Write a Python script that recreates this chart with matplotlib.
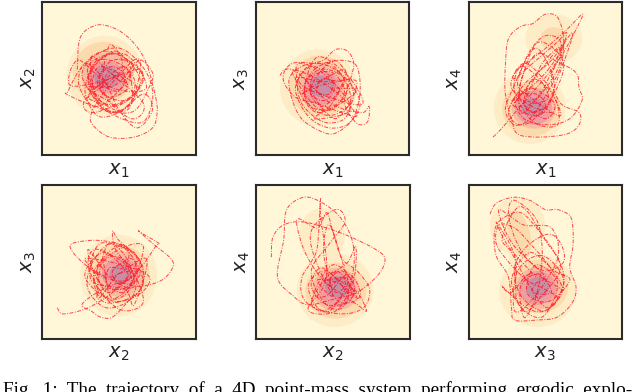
import matplotlib
matplotlib.use("Agg")
import matplotlib.pyplot as plt
from matplotlib.patches import Ellipse, PathPatch
from matplotlib.path import Path

W, H = 640, 392
labels = [("x_1", "x_2"), ("x_1", "x_3"), ("x_1", "x_4"),
          ("x_2", "x_3"), ("x_2", "x_4"), ("x_3", "x_4")]
boxes = [(42, 2), (255.5, 2), (468.5, 2), (42, 185), (256, 185), (468.5, 185)]
caption = "Fig. 1: The trajectory of a 4D point-mass system performing ergodic explo-"

BG = "#FFF7D8"
LEVELS = ["#FDECC6", "#FBDBAE", "#F8BCA2", "#EE9EA0", "#C88EA6"]

# (level, cx, cy, rx, ry, angle)
bands_12 = [(0,41,52,25,26,0),(1,40,54,20,20,0),(2,42,52,16,15,0),(3,42,51,12,10.5,0),(4,42,51,8,7.5,0)]
bands_13 = [(0,41,44,25,25,-30),(1,42,45,20,20,0),(2,43,45,15,15,0),(3,43,44,12,11,0),(4,43,45,8,7,0)]
bands_14 = [(0,40,31,23.5,23.5,0),(0,55.5,76,18.5,16,0),(0,50,58,10,20,-25),(1,41,30.5,19,18,0),
            (1,55.5,76,8.7,7.6,0),(2,42.5,31,14.5,13.5,0),(3,42.5,31,12,11,0),(4,42,31.5,7.5,6,0)]
bands_23 = [(0,50,41,25,26.5,0),(1,50,42,20,19,0),(2,51,42,16,15,0),(3,51,42,12,10.5,0),(4,51,42,7,6,0)]
bands_24 = [(0,51.5,31.5,25,24,0),(0,43,67,15,18,0),(1,52,31,20,18,0),(2,52,32,15.5,14,0),
            (3,53,32,12,11.5,0),(4,53,33.5,8,7,0)]
bands_34 = [(0,45,31,25,23.5,0),(0,32,73,18,19,0),(0,38,52,11,16,20),(1,46,34,19,17.5,0),
            (1,33,68,7,16,15),(2,46,33,15,14,0),(3,45,33,12,11,0),(4,45,33,7.5,7,0)]

traj_12 = [(23,56),(25,77),(36,85),(49,82),(60,73),(68,60),(74,38),(75,28),(72,18),(60,12),(44,12),(33,20),(32,27),
           (38,38),(50,52),(62,63),(72,54),(70,45),(60,29),(44,29),(29,34),(16,40),(17,42),(24,55),(35,66),(50,70),
           (62,62),(70,50),(72,36),(66,22),(52,24),(36,34),(30,50),(36,62),(50,60),(60,50),(58,38),(46,32),(34,40),
           (32,56),(44,66),(56,62),(64,48),(55,36),(40,40),(38,52),(46,58),(54,52),(50,42),(40,46),(44,54),(52,48),
           (58,56),(48,68),(34,58),(28,42),(36,26),(50,28),(66,40),(72,30),(62,18),(50,30),(40,50),(28,60),(24,46),
           (34,32),(48,40),(60,58),(46,62),(36,48),(44,38),(56,44),(48,52),(30,38),(52,34),(66,52),(42,68),(26,52),
           (46,28),(62,44),(38,58),(34,44),(54,58),(58,34),(40,30),(30,58),(54,66),(68,44),(46,44),(24,62),(18,46),
           (38,48),(64,56),(60,40),(34,28),(28,36),(52,56),(44,72),(40,42),(58,24),(66,34),(42,56),(32,64),(36,38),
           (56,30),(64,62),(48,46),(30,44),(46,34)]
traj_13 = [(16,52),(19,56),(26,55),(36,46),(46,36),(58,30),(70,28),(74,32),(73,22),(66,21),(58,34),(62,50),(64,60),
           (60,68),(52,69),(44,62),(30,58),(22,50),(24,36),(30,24),(40,17),(50,14),(60,20),(68,32),(64,44),(52,56),
           (38,60),(28,50),(30,34),(44,22),(58,24),(62,38),(56,52),(42,56),(32,46),(36,32),(50,30),(58,42),(50,54),
           (38,52),(36,40),(46,36),(52,46),(44,50),(40,42),(48,40),(50,50),(36,58),(26,44),(34,26),(48,18),(62,22),
           (68,40),(66,58),(56,62),(42,60),(24,60),(18,50),(26,38),(40,34),(56,28),(66,26),(54,40),(36,52),(24,54),
           (42,30),(60,42),(48,60),(34,48),(52,24),(66,48),(44,46),(30,40),(58,56),(50,34),(38,24),(62,30),(46,52),
           (28,60),(30,46),(54,36),(70,34),(60,52),(40,64),(32,38),(48,26),(64,38),(52,62),(36,44),(44,32),(58,48),
           (42,48),(26,50),(40,28),(66,42),(50,44)]
traj_14 = [(16,12),(22,18),(32,30),(46,46),(60,64),(72,86),(74,92),(64,82),(48,68),(32,56),(30,50),(44,62),(58,74),
           (64,80),(60,66),(54,50),(60,34),(72,28),(72,20),(64,14),(46,12),(32,14),(28,24),(24,40),(24,58),(26,76),
           (34,84),(42,86),(50,92),(58,90),(62,76),(60,58),(52,42),(40,24),(30,20),(24,30),(30,46),(40,68),(50,78),
           (60,74),(58,56),(44,36),(34,28),(34,48),(44,66),(56,62),(70,54),(72,44),(74,36),(66,24),(52,20),(36,24),
           (30,38),(44,40),(50,32),(40,28),(36,36),(44,34),(52,38),(46,50),(34,58),(30,42),(42,22),(58,20),(56,38),
           (42,50),(36,34),(48,60),(62,72),(52,56),(38,42),(28,34),(46,26),(56,46),(44,70),(32,48),(40,38),(60,26),
           (50,48),(36,60),(28,44),(48,30),(58,50),(68,80),(54,62),(36,46),(26,28),(36,20),(52,34),(62,60),(46,74),
           (36,54),(34,36),(50,24),(56,34),(40,44),(30,34),(44,52),(60,70),(48,42),(38,30),(54,28)]
traj_23 = [(10,20),(14,16),(30,20),(46,30),(64,46),(74,60),(76,62),(66,68),(63,70),(72,62),(84,52),(85,46),(78,38),
           (64,34),(50,36),(36,30),(26,22),(32,18),(38,14),(46,14),(56,24),(64,32),(66,44),(60,56),(48,62),(34,64),
           (20,62),(19,58),(26,50),(40,40),(56,38),(64,50),(50,64),(46,70),(48,58),(60,42),(66,24),(56,18),(46,22),
           (36,34),(30,48),(34,58),(46,54),(56,46),(58,34),(50,26),(40,28),(34,40),(42,52),(52,52),(60,40),(52,30),
           (42,36),(44,46),(54,46),(56,58),(44,62),(32,48),(30,32),(42,20),(58,26),(62,42),(58,52),(46,44),(50,36),
           (56,42),(40,56),(28,40),(48,24),(66,36),(52,60),(36,46),(44,30),(62,52),(38,62),(32,38),(54,32),(60,22),
           (68,52),(44,40),(28,52),(52,48),(70,40),(62,28),(40,24),(34,44),(50,58),(66,60),(56,34),(38,36),(30,58),
           (46,38),(60,34),(54,54),(42,60),(36,26),(50,42),(64,42),(46,26),(40,50)]
traj_24 = [(10,53),(11,66),(18,74),(30,76),(46,72),(62,66),(78,58),(84,52),(80,42),(66,30),(52,26),(34,22),(24,28),
           (14,40),(18,64),(20,84),(31,92),(42,89),(54,80),(62,66),(64,50),(60,30),(52,18),(40,16),(34,20),(44,34),
           (46,50),(42,80),(42,90),(40,60),(36,50),(30,40),(30,28),(38,20),(56,16),(70,20),(74,32),(66,44),(56,52),
           (50,70),(46,82),(40,72),(28,78),(27,72),(32,56),(42,40),(54,30),(66,22),(72,18),(66,30),(54,38),(42,46),
           (36,34),(46,22),(60,24),(64,34),(56,44),(48,38),(52,30),(58,34),(56,40),(48,34),(50,42),(60,50),(65,60),
           (64,40),(56,20),(44,24),(36,44),(48,62),(58,76),(52,84),(36,70),(40,48),(54,24),(68,28),(60,42),(46,28),
           (38,30),(50,48),(62,36),(44,18),(34,34),(46,44),(62,28),(58,44),(48,74),(44,56),(50,28),(40,38),(54,36),
           (66,26),(52,44),(36,24),(48,18),(60,38),(46,38)]
traj_34 = [(14,81),(18,88),(29,92),(40,90),(50,84),(58,84),(66,80),(68,72),(68,60),(66,46),(70,34),(68,24),(58,14),
           (44,12),(30,12),(28,20),(26,40),(18,54),(17,70),(22,78),(34,82),(46,70),(56,56),(62,42),(60,28),(50,18),
           (38,20),(22,34),(28,30),(40,42),(54,36),(62,32),(52,48),(40,62),(30,72),(20,74),(18,62),(26,50),(38,38),
           (50,32),(58,26),(48,18),(34,28),(30,46),(38,60),(52,68),(60,62),(62,50),(50,44),(38,52),(30,66),(26,82),
           (30,90),(44,78),(48,58),(46,36),(42,22),(36,14),(34,34),(46,42),(54,30),(42,30),(44,36),(50,40),(40,50),
           (30,60),(24,70),(20,84),(36,74),(54,72),(58,52),(42,26),(30,18),(32,44),(48,54),(62,38),(52,20),(40,34),
           (28,56),(22,66),(34,86),(50,64),(60,46),(46,26),(36,18),(28,38),(40,56),(56,44),(66,38),(52,24),(38,30),
           (44,48),(58,36),(48,14),(32,24),(30,54),(18,76),(26,60),(44,40)]

bands = [bands_12, bands_13, bands_14, bands_23, bands_24, bands_34]
trajs = [traj_12, traj_13, traj_14, traj_23, traj_24, traj_34]


def smooth_path(pts):
    # cubic Bezier segments passing through every waypoint
    verts = [pts[0]]
    codes = [Path.MOVETO]
    n = len(pts)
    for i in range(n - 1):
        p0 = pts[max(i - 1, 0)]
        p1 = pts[i]
        p2 = pts[i + 1]
        p3 = pts[min(i + 2, n - 1)]
        c1 = (p1[0] + (p2[0] - p0[0]) / 6, p1[1] + (p2[1] - p0[1]) / 6)
        c2 = (p2[0] - (p3[0] - p1[0]) / 6, p2[1] - (p3[1] - p1[1]) / 6)
        verts += [c1, c2, p2]
        codes += [Path.CURVE4] * 3
    return Path(verts, codes)


fig = plt.figure(figsize=(W / 100, H / 100), dpi=100)
SIZE = 153.5
for (px, py), (xl, yl), bd, tr in zip(boxes, labels, bands, trajs):
    ax = fig.add_axes([px / W, 1 - (py + SIZE) / H, SIZE / W, SIZE / H])
    ax.set_facecolor(BG)
    ax.set_xlim(0, 100)
    ax.set_ylim(0, 100)
    ax.set_xticks([])
    ax.set_yticks([])
    for s in ax.spines.values():
        s.set_linewidth(1.5)
        s.set_color("#2b2b2b")
    for lv, cx, cy, rx, ry, ang in sorted(bd, key=lambda b: b[0]):
        ax.add_patch(Ellipse((cx, cy), 2 * rx, 2 * ry, angle=ang, fc=LEVELS[lv], ec="none"))
    ax.add_patch(PathPatch(smooth_path(tr), fill=False, ec="#FF0A14", lw=0.7,
                           ls=(0, (4, 1.5, 1, 1.5)), alpha=0.75))
    ax.set_xlabel(f"${xl}$", fontsize=14, color="#222222", labelpad=4)
    ax.set_ylabel(f"${yl}$", fontsize=14, color="#222222", labelpad=3)

fig.text(3 / W, 1 - 395 / H, caption.replace(" ", "  "), family="Liberation Serif", fontsize=13.75,
         ha="left", va="baseline", color="black")
fig.savefig("out.png", dpi=100)
